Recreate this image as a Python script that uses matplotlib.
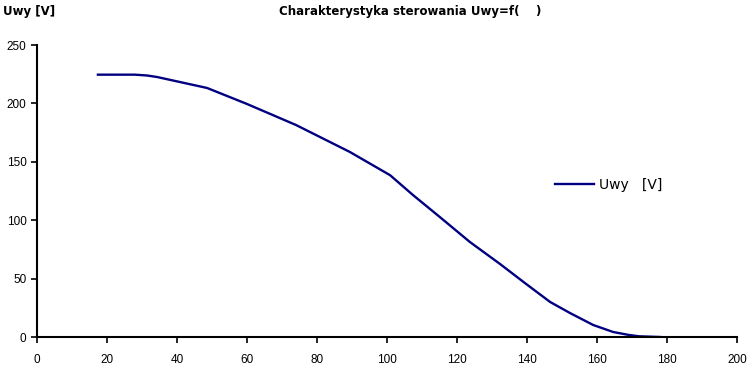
import matplotlib
matplotlib.use('Agg')
import matplotlib.pyplot as plt

# control angle (deg) vs output voltage
alpha = [17.4, 28, 31.4, 34.3, 48.6, 60, 74, 89.4, 100.9, 107.4, 115.1, 123.7,
         132.3, 139.4, 146.6, 152.3, 158.9, 164.6, 169, 172, 178]
uwy = [224.6, 224.6, 223.9, 222.6, 213.2, 199.5, 181.5, 158.4, 138.5, 121.6,
       102.7, 81.3, 62.5, 46.2, 30.0, 20.5, 10.3, 4.3, 1.8, 0.6, 0.0]

x_ticks = list(range(0, 201, 20))
y_ticks = list(range(0, 251, 50))

plt.rcParams['font.family'] = ['Liberation Sans', 'DejaVu Sans']

fig = plt.figure(figsize=(7.5, 3.9), dpi=100)
ax = fig.add_axes([37 / 750, 53 / 390, 700 / 750, 292 / 390])

ax.plot(alpha, uwy, color='#000080', lw=1.7, label='Uwy   [V]')

ax.set_xlim(0, 200)
ax.set_ylim(0, 250)
ax.set_xticks(x_ticks)
ax.set_yticks(y_ticks)
ax.tick_params(axis='both', labelsize=8.5, direction='out', length=4, width=1.2)
ax.tick_params(axis='x', pad=8)
for side in ['top', 'right']:
    ax.spines[side].set_visible(False)
for side in ['left', 'bottom']:
    ax.spines[side].set_linewidth(1.5)

fig.text(3 / 750, 1 - 12 / 390, 'Uwy [V]', fontsize=8.5, fontweight='bold',
         va='center', family='DejaVu Sans')
fig.text(410 / 750, 1 - 11 / 390, 'Charakterystyka sterowania Uwy=f(    )',
         fontsize=8.5, fontweight='bold', ha='center', va='center',
         family='DejaVu Sans')

ax.legend(loc='center left', bbox_to_anchor=(0.722, 0.52), frameon=False,
          prop={'family': 'DejaVu Sans', 'size': 10},
          handlelength=2.8, handletextpad=0.4)

fig.savefig('out.png', dpi=100)
